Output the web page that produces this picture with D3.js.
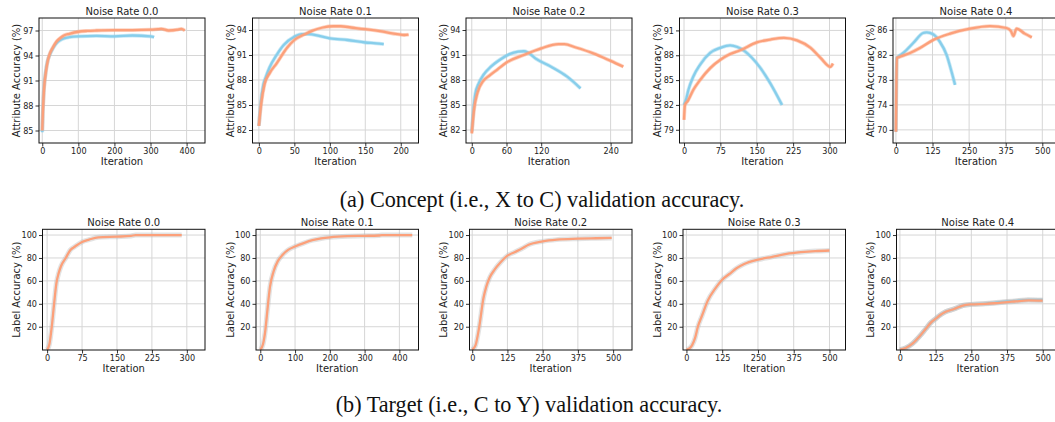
<!DOCTYPE html>
<html>
<head>
<meta charset="utf-8">
<script src="https://cdn.jsdelivr.net/npm/d3@7"></script>
<style>
  body { margin: 0; background: #fff; }
  svg { display: block; }
  text { font-family: "DejaVu Sans", sans-serif; fill: #222; }
  .caption { font-family: "Liberation Serif", "Times New Roman", serif; fill: #111; }
</style>
</head>
<body>
<script>
// noise rates shared by both rows
const noiseRates = ["0.0", "0.1", "0.2", "0.3", "0.4"];

// (a) concept accuracy, [iteration, accuracy]
const conceptBlue = [
  [[0,84.8],[2,87.8],[5,90.2],[10,92.2],[15,93.4],[20,94.0],[30,94.9],[40,95.5],[50,95.85],[60,96.05],[75,96.2],[100,96.3],[150,96.35],[200,96.3],[250,96.4],[300,96.3],[310,96.2]],
  [[0,82.5],[3,85.5],[6,87.3],[10,88.4],[15,89.5],[25,91.0],[35,92.2],[50,93.2],[60,93.5],[70,93.5],[85,93.3],[100,93.0],[125,92.8],[150,92.5],[165,92.4],[176,92.3]],
  [[0,81.8],[3,84.5],[6,86.3],[12,87.6],[20,88.6],[33,89.6],[50,90.5],[65,91.1],[80,91.4],[90,91.45],[97,91.3],[110,90.6],[137,89.6],[165,88.4],[188,87.0]],
  [[0,82.0],[4,82.6],[9,83.8],[19,85.4],[33,86.85],[54,88.3],[75,88.9],[95,89.2],[110,89.0],[125,88.5],[140,87.7],[157,86.5],[178,84.6],[202,82.0]],
  [[0,69.7],[3,81.5],[8,81.7],[25,82.3],[59,83.9],[93,85.5],[105,85.6],[127,85.3],[150,84.1],[173,82.0],[190,79.3],[202,77.2]]
];
const conceptOrange = [
  [[0,85.0],[2,87.5],[5,90.0],[10,92.0],[15,93.3],[20,94.1],[30,95.0],[40,95.7],[50,96.1],[60,96.4],[75,96.6],[100,96.85],[125,96.95],[150,97.0],[200,97.05],[250,97.05],[300,97.1],[330,97.2],[350,97.0],[375,97.1],[385,97.2],[395,97.0]],
  [[0,82.5],[3,85.0],[8,87.5],[15,88.8],[25,90.0],[40,91.9],[50,92.8],[65,93.5],[75,93.9],[90,94.3],[105,94.45],[115,94.45],[130,94.3],[150,94.1],[175,93.8],[195,93.5],[205,93.4],[211,93.45]],
  [[0,81.6],[4,84.5],[10,86.5],[20,87.9],[30,88.5],[45,89.3],[60,90.1],[90,91.0],[120,91.8],[150,92.3],[160,92.3],[180,91.9],[210,91.2],[240,90.3],[262,89.6]],
  [[0,80.2],[2,82.0],[8,82.5],[19,83.8],[33,85.0],[54,86.45],[75,87.45],[95,88.15],[116,88.6],[150,89.55],[178,89.9],[206,90.1],[233,89.8],[261,88.9],[282,87.65],[302,86.6],[307,87.0]],
  [[0,69.7],[3,81.5],[14,81.7],[48,82.3],[82,83.1],[128,84.4],[185,85.4],[253,86.2],[321,86.6],[378,86.3],[393,85.8],[401,85.0],[412,86.2],[440,85.4],[464,84.8]]
];

// (b) target accuracy, [iteration, accuracy]
const targetBlue = [
  [], [], [], [],
  [[0,0],[20,1.5],[45,5.5],[70,12],[90,18],[110,24],[125,27],[140,30],[160,33],[190,35.5],[220,38.5],[250,39.5],[300,40.2],[330,40.9],[375,42.0],[400,42.5],[450,43.5],[500,43.3]]
];
const targetOrange = [
  [[0,0],[5,5],[10,20],[15,40],[20,58],[25,67],[30,73],[40,80],[50,87],[60,90],[75,94],[90,96],[110,98],[150,98.6],[180,99.2],[190,100],[289,100]],
  [[0,0],[8,5],[15,18],[20,33],[28,55],[38,68],[50,77],[65,83],[80,87],[100,90],[125,93],[150,95.5],[175,97],[200,98],[250,99],[300,99.3],[340,99.6],[350,100],[437,100]],
  [[0,0],[12,4],[25,20],[40,45],[50,55],[62,63],[80,70],[100,76],[125,82],[150,85],[175,88],[200,91.5],[250,94.5],[300,96],[375,96.8],[440,97.2],[495,97.5]],
  [[0,0],[10,1],[20,4],[30,10],[40,20],[55,30],[75,43],[100,53],[125,61],[150,66],[175,71],[200,74.5],[250,78.5],[300,81],[350,83.5],[400,85],[450,86],[500,86.5]],
  [[0,0],[20,1.5],[45,5.5],[70,12],[90,18],[110,24],[125,27],[140,30],[160,33],[190,35.5],[220,38.5],[250,39.5],[300,40],[330,40.5],[375,41.5],[400,42],[450,43],[500,42.8]]
];

// axis ranges and ticks
const conceptXDomains = [[-9, 451], [-9, 225], [-10, 277], [-9.3, 333], [-10, 557]];
const conceptYDomains = [[83.5, 98.5], [80.44, 95.44], [80.44, 95.44], [77.4, 92.5], [67.9, 87.9]];
const conceptXTicks = [[0,100,200,300,400], [0,50,100,150,200], [0,60,120,240], [0,75,150,225,300], [0,125,250,375,500]];
const conceptYTicks = [[85,88,91,94,97], [82,85,88,91,94], [82,85,88,91,94], [79,82,85,88,91], [70,74,78,82,86]];

const targetXDomains = [[-9.9, 339], [-12.3, 455], [-9.6, 567], [-12, 556], [-12, 557]];
const targetYDomain = [-0.3, 105];
const targetXTicks = [[0,75,150,225,300], [0,100,200,300,400], [0,125,250,375,500], [0,125,250,375,500], [0,125,250,375,500]];
const targetYTicks = [20, 40, 60, 80, 100];

const W = 1055, H = 422;
const svg = d3.select("body").append("svg").attr("width", W).attr("height", H);
const defs = svg.append("defs");

const blue = "#87CEEB", orange = "#FCA07A";

function drawPanel(id, box, xDom, yDom, xTicks, yTicks, series, ylabel, underlay) {
  const x = d3.scaleLinear().domain(xDom).range([box.left, box.right]);
  const y = d3.scaleLinear().domain(yDom).range([box.bottom, box.top]);
  const g = svg.append("g");

  defs.append("clipPath").attr("id", id)
    .append("rect")
    .attr("x", box.left).attr("y", box.top)
    .attr("width", box.right - box.left).attr("height", box.bottom - box.top);

  // grid
  g.selectAll(".gx").data(xTicks).enter().append("line")
    .attr("x1", d => x(d)).attr("x2", d => x(d))
    .attr("y1", box.top).attr("y2", box.bottom)
    .attr("stroke", "#d6d6d6").attr("stroke-width", 1);
  g.selectAll(".gy").data(yTicks).enter().append("line")
    .attr("x1", box.left).attr("x2", box.right)
    .attr("y1", d => y(d)).attr("y2", d => y(d))
    .attr("stroke", "#d6d6d6").attr("stroke-width", 1);

  const line = d3.line()
    .x(d => x(d[0])).y(d => y(d[1]))
    .curve(d3.curveMonotoneX);

  const lines = g.append("g").attr("clip-path", "url(#" + id + ")");
  series.forEach(s => {
    if (!s.data.length) return;
    lines.append("path").datum(s.data)
      .attr("d", line).attr("fill", "none")
      .attr("stroke", underlay || s.color).attr("stroke-opacity", underlay ? 0.4 : 0.45)
      .attr("stroke-width", underlay ? 5 : 3.8)
      .attr("stroke-linejoin", "round");
    lines.append("path").datum(s.data)
      .attr("d", line).attr("fill", "none")
      .attr("stroke", s.color).attr("stroke-width", 2.3)
      .attr("stroke-linejoin", "round");
  });

  // axes
  g.append("g").attr("transform", "translate(0," + box.bottom + ")")
    .call(d3.axisBottom(x).tickValues(xTicks).tickSize(3.5).tickPadding(2))
    .call(a => a.select(".domain").remove())
    .call(a => a.selectAll("text").attr("font-size", 8.1).attr("fill", "#222").attr("font-family", "DejaVu Sans"))
    .call(a => a.selectAll("line").attr("stroke", "#333"));
  g.append("g").attr("transform", "translate(" + box.left + ",0)")
    .call(d3.axisLeft(y).tickValues(yTicks).tickSize(3.5).tickPadding(2))
    .call(a => a.select(".domain").remove())
    .call(a => a.selectAll("text").attr("font-size", 8.1).attr("fill", "#222").attr("font-family", "DejaVu Sans"))
    .call(a => a.selectAll("line").attr("stroke", "#333"));

  g.append("rect")
    .attr("x", box.left).attr("y", box.top)
    .attr("width", box.right - box.left).attr("height", box.bottom - box.top)
    .attr("fill", "none").attr("stroke", "#111").attr("stroke-width", 1);

  const cx = (box.left + box.right) / 2;
  g.append("text").attr("x", cx).attr("y", box.top - 3.5)
    .attr("text-anchor", "middle").attr("font-size", 10)
    .text("Noise Rate " + box.rate);
  g.append("text").attr("x", cx).attr("y", box.bottom + 21.5)
    .attr("text-anchor", "middle").attr("font-size", 10)
    .text("Iteration");
  g.append("text")
    .attr("transform", "translate(" + (box.left - box.ylabOff) + "," + ((box.top + box.bottom) / 2) + ") rotate(-90)")
    .attr("text-anchor", "middle").attr("dominant-baseline", "central").attr("font-size", 10)
    .text(ylabel);
}

noiseRates.forEach((rate, i) => {
  const right = 205 + 213.5 * i;
  drawPanel("ct" + i,
    { left: right - 166, right: right, top: 18, bottom: 143, rate: rate, ylabOff: 22.5 },
    conceptXDomains[i], conceptYDomains[i], conceptXTicks[i], conceptYTicks[i],
    [{ data: conceptBlue[i], color: blue }, { data: conceptOrange[i], color: orange }],
    "Attribute Accuracy (%)", null);
  drawPanel("tg" + i,
    { left: right - 162.5, right: right, top: 229.3, bottom: 350, rate: rate, ylabOff: 26 },
    targetXDomains[i], targetYDomain, targetXTicks[i], targetYTicks,
    [{ data: targetBlue[i], color: blue }, { data: targetOrange[i], color: orange }],
    "Label Accuracy (%)", "#b9b9b9");
});

svg.append("text").attr("class", "caption")
  .attr("x", 542).attr("y", 207).attr("text-anchor", "middle").attr("font-size", 22.2)
  .text("(a) Concept (i.e., X to C) validation accuracy.");
svg.append("text").attr("class", "caption")
  .attr("x", 529).attr("y", 412).attr("text-anchor", "middle").attr("font-size", 22.2)
  .text("(b) Target (i.e., C to Y) validation accuracy.");
</script>
</body>
</html>
